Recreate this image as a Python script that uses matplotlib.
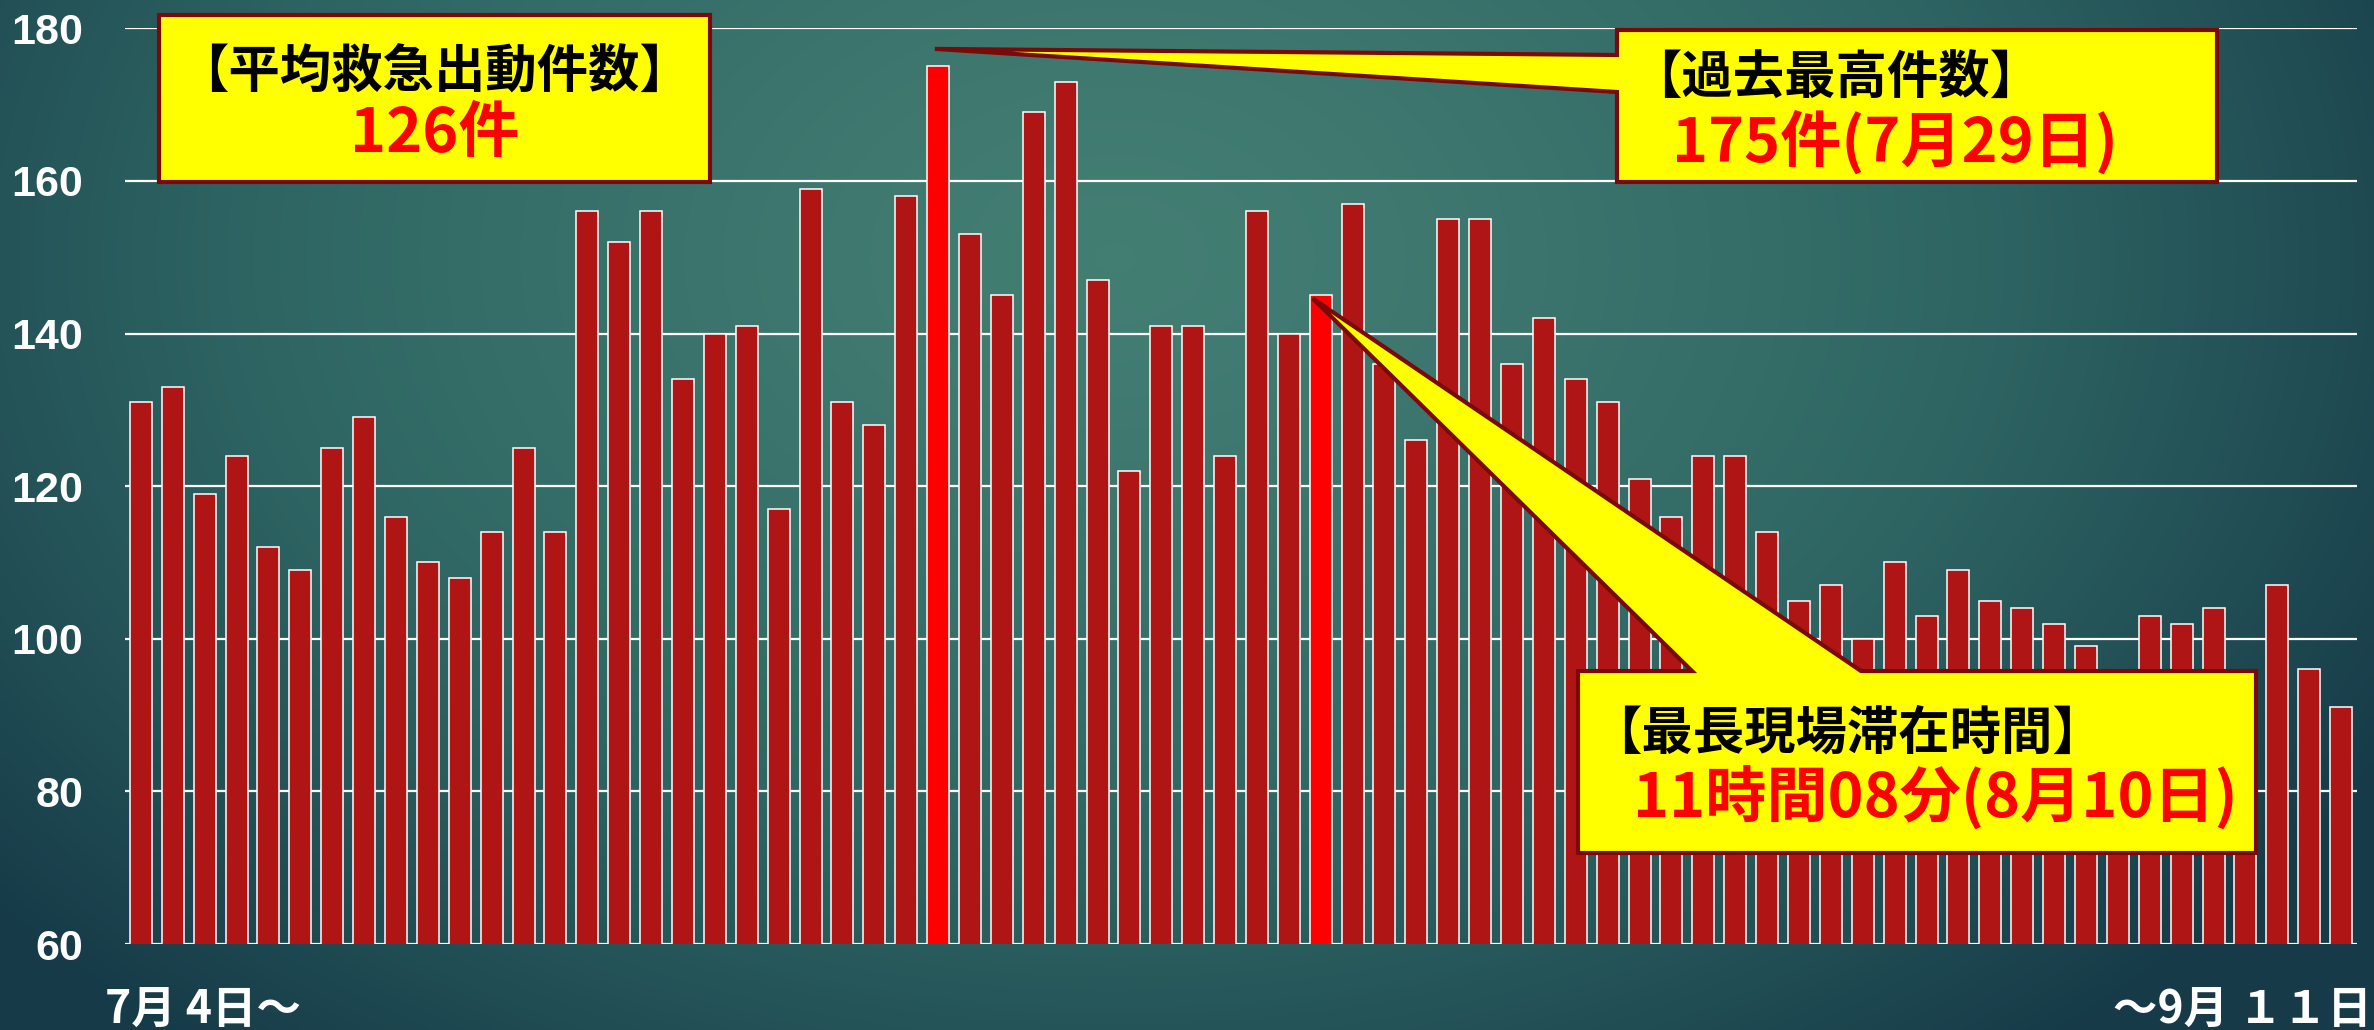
import numpy as np
import matplotlib
matplotlib.use('Agg')
import matplotlib.pyplot as plt
from matplotlib.patches import Polygon
from matplotlib.transforms import IdentityTransform
from matplotlib.colors import LinearSegmentedColormap

# ---------------- data ----------------
counts = [131, 133, 119, 124, 112, 109, 125, 129, 116, 110,
          108, 114, 125, 114, 156, 152, 156, 134, 140, 141,
          117, 159, 131, 128, 158, 175, 153, 145, 169, 173,
          147, 122, 141, 141, 124, 156, 140, 145, 157, 136,
          126, 155, 155, 136, 142, 134, 131, 121, 116, 124,
          124, 114, 105, 107, 100, 110, 103, 109, 105, 104,
          102, 99, 93, 103, 102, 104, 94, 107, 96, 91]
highlight_idx = [25, 37]           # 7/29 (max) and 8/10 (longest stay)
yticks = [60, 80, 100, 120, 140, 160, 180]
start_label = "7月 4日～"
end_label = "～9月 １１日"
box1_title, box1_value = "【平均救急出動件数】", "126件"
box2_title, box2_value = "【過去最高件数】", "175件(7月29日)"
box3_title, box3_value = "【最長現場滞在時間】", "11時間08分(8月10日)"

# ---------------- figure ----------------
W, H = 2374, 1030
fig = plt.figure(figsize=(W / 100, H / 100), dpi=100)

CJK = ['Noto Sans CJK JP', 'DejaVu Sans']
NUM = ['Liberation Sans Narrow', 'Liberation Sans', 'DejaVu Sans']

# background gradient
bg = fig.add_axes([0, 0, 1, 1])
bg.axis('off')
yy, xx = np.mgrid[0:1:300j, 0:1:600j]
d = np.sqrt(((xx - 0.47) / 0.62) ** 2 + ((yy - 0.25) / 1.0) ** 2)
t = np.clip(d, 0, 1) ** 1.3
cmap = LinearSegmentedColormap.from_list('bgc', ['#437E73', '#2E6563', '#163A48'])
bg.imshow(t, cmap=cmap, aspect='auto', extent=[0, 1, 0, 1], origin='upper',
          vmin=0, vmax=1, interpolation='bilinear')
bg.set_xlim(0, 1)
bg.set_ylim(0, 1)

# main axes
ax = fig.add_axes([125 / W, (H - 944) / H, 2232 / W, (944 - 28.3) / H])
ax.patch.set_alpha(0)
x = np.arange(len(counts))
colors = ['#FF0000' if i in highlight_idx else '#B01515' for i in x]
ax.bar(x, counts, width=0.69, color=colors, edgecolor='white', linewidth=1.1, zorder=3)
ax.set_xlim(-0.5, len(counts) - 0.5)
ax.set_ylim(60, 180)
ax.set_yticks(yticks)
ax.set_xticks([])
ax.yaxis.grid(True, color='white', linewidth=1.6, zorder=0)
ax.set_axisbelow(True)
for s in ax.spines.values():
    s.set_visible(False)
ax.tick_params(axis='y', length=0, pad=30, labelcolor='white')
for lab in ax.get_yticklabels():
    lab.set_fontfamily(NUM)
    lab.set_fontweight('bold')
    lab.set_fontsize(31)

# x-range labels
fig.text(105, H - 1010, start_label, transform=IdentityTransform(), color='white',
         fontsize=32, fontweight='bold', family=CJK, ha='left', va='center')
fig.text(2372, H - 1010, end_label, transform=IdentityTransform(), color='white',
         fontsize=32, fontweight='bold', family=CJK, ha='right', va='center')

# ---------------- callouts ----------------
def P(px, py):
    return (px, H - py)

EDGE = '#7A0A0A'
YEL = '#FFFF00'

def add_poly(pts):
    poly = Polygon(pts, closed=True, facecolor=YEL, edgecolor=EDGE, linewidth=3,
                   transform=IdentityTransform(), zorder=10, joinstyle='miter')
    fig.add_artist(poly)

# box 1: plain rectangle
add_poly([P(159, 15), P(710, 15), P(710, 182), P(159, 182)])

# box 2 with pointer to max bar
i2 = highlight_idx[0]
tip2 = ax.transData.transform((i2 - 0.1, counts[i2] + 2.3))
add_poly([P(1617, 30), P(2217, 30), P(2217, 182), P(1617, 182), P(1617, 92),
          tuple(tip2), P(1617, 55)])

# box 3 with pointer to 8/10 bar
i3 = highlight_idx[1]
tip3 = ax.transData.transform((i3 - 0.25, counts[i3] - 0.4))
add_poly([P(1578, 671), P(1692, 671), tuple(tip3), P(1861, 671), P(2256, 671),
          P(2256, 853), P(1578, 853)])

def txt(px, py, s, color, size, ha):
    fig.text(px, H - py, s, transform=IdentityTransform(), color=color, fontsize=size,
             fontweight='bold', family=CJK, ha=ha, va='center', zorder=11)

txt(434, 72, box1_title, 'black', 37, 'center')
txt(435, 134, box1_value, '#FF0000', 44, 'center')
txt(1630, 78, box2_title, 'black', 37, 'left')
txt(1672, 142, box2_value, '#FF0000', 44, 'left')
txt(1590, 733, box3_title, 'black', 37, 'left')
txt(1633, 799, box3_value, '#FF0000', 44, 'left')

fig.savefig('out.png', dpi=100)
